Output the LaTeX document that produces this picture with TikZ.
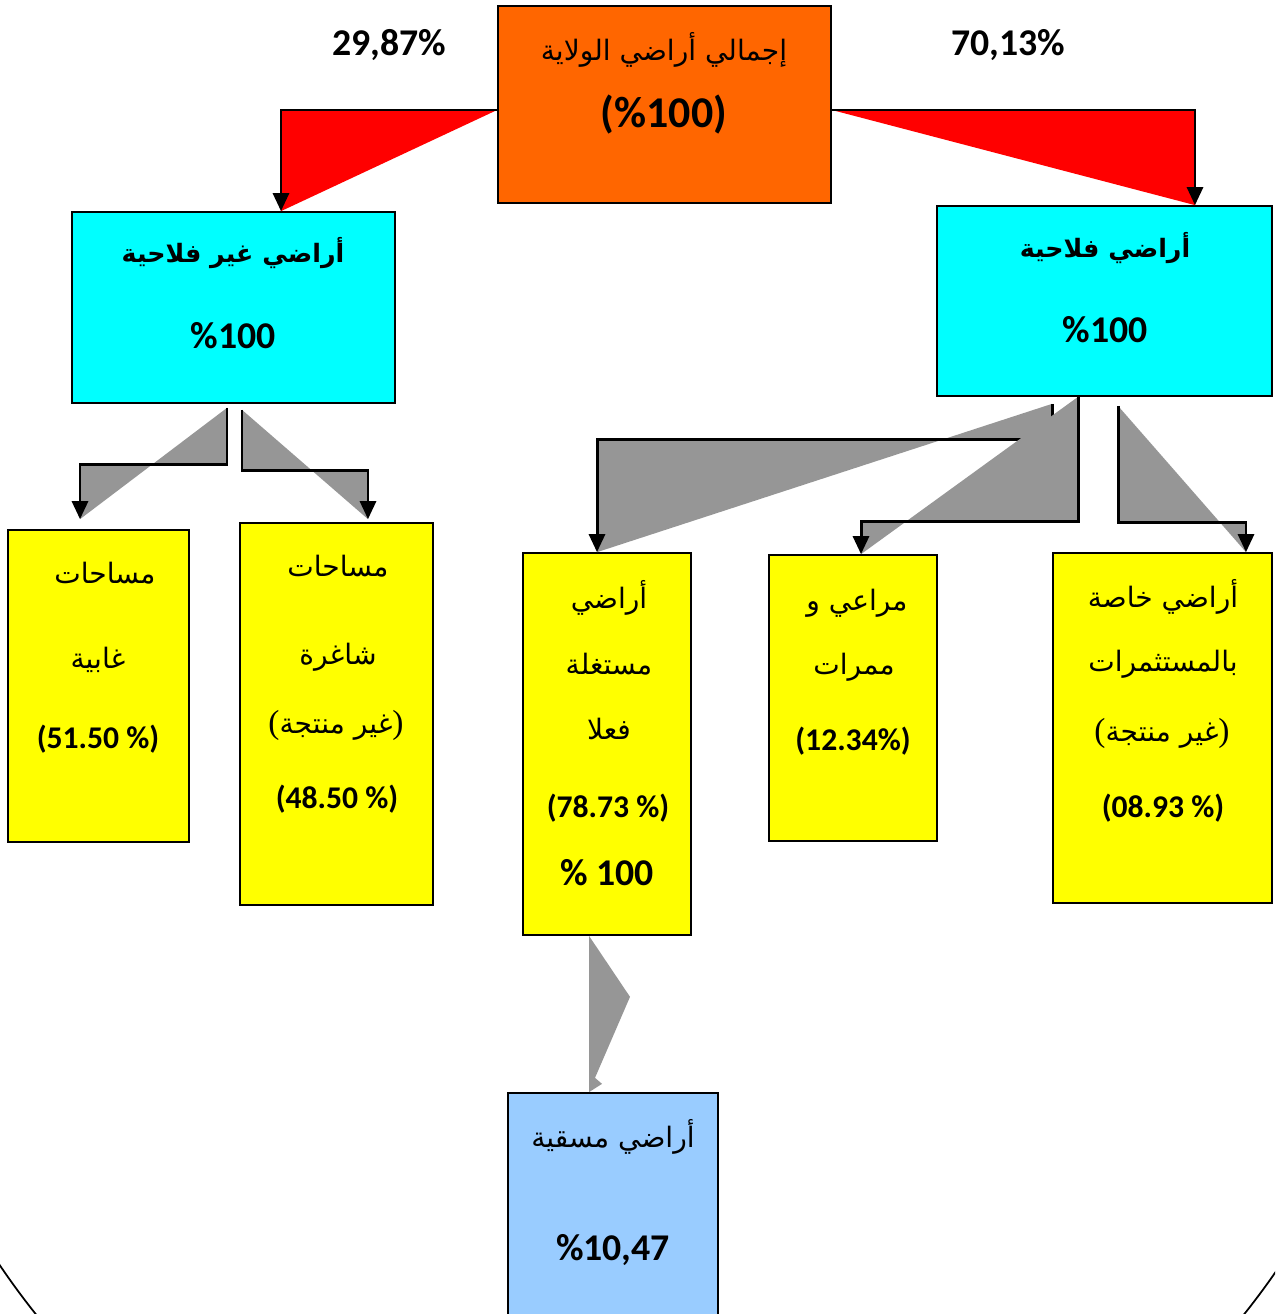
\documentclass[tikz,border=0pt]{standalone}
\usepackage{fontspec}
\usetikzlibrary{arrows.meta}
\TeXXeTstate=1
\newfontfamily\arabicfont[Script=Arabic]{DejaVu Sans}
\newfontfamily\numfont{Carlito}
\newfontfamily\parenfont{Liberation Serif}
\definecolor{boxorange}{HTML}{FF6600}
\definecolor{boxcyan}{HTML}{00FFFF}
\definecolor{boxyellow}{HTML}{FFFF00}
\definecolor{boxblue}{HTML}{99CCFF}
\definecolor{shadegray}{HTML}{969696}
\newcommand{\opar}{{\parenfont\fontsize{19}{22}\selectfont(}}
\newcommand{\cpar}{{\parenfont\fontsize{19}{22}\selectfont)}}
\begin{document}
\begin{tikzpicture}
		[x=0.02cm,y=-0.02cm,
		box/.style={rectangle,draw,line width=1pt,inner sep=0pt},
		conn/.style={line width=1.7pt,-{Triangle[length=0.36cm,width=0.32cm]}},
		redsh/.style={fill=red},
		graysh/.style={fill=shadegray},
		ar/.style={font=\arabicfont\fontsize{16}{19}\selectfont},
		arb/.style={font=\arabicfont\bfseries\fontsize{14.4}{17}\selectfont},
		num/.style={font=\numfont\bfseries\fontsize{18}{22}\selectfont},
		bignum/.style={font=\numfont\bfseries\fontsize{21.5}{25}\selectfont}]
		\clip (0,0) rectangle (1275,1314);
		% boxes
		\node[box,fill=boxorange,minimum width=6.66cm,minimum height=3.94cm] (tot) at (664.5,104.5) {};
		\node[box,fill=boxcyan,minimum width=6.46cm,minimum height=3.82cm] (nf) at (233.5,307.5) {};
		\node[box,fill=boxcyan,minimum width=6.70cm,minimum height=3.80cm] (fl) at (1104.5,301) {};
		\node[box,fill=boxyellow,minimum width=3.62cm,minimum height=6.24cm] (ghab) at (98.5,686) {};
		\node[box,fill=boxyellow,minimum width=3.86cm,minimum height=7.64cm] (shagh) at (336.5,714) {};
		\node[box,fill=boxyellow,minimum width=3.36cm,minimum height=7.64cm] (must) at (607,744) {};
		\node[box,fill=boxyellow,minimum width=3.36cm,minimum height=5.72cm] (mara) at (853,698) {};
		\node[box,fill=boxyellow,minimum width=4.38cm,minimum height=7.00cm] (khas) at (1162.5,728) {};
		\node[box,fill=boxblue,minimum width=4.20cm,minimum height=4.74cm] (masq) at (613,1211.5) {};
		% connectors from the total
		\fill[redsh] ([yshift=-0.11cm]tot.west) -| ([xshift=0.95cm]nf.north) -- cycle;
		\draw[conn] ([yshift=-0.11cm]tot.west) -| ([xshift=0.95cm]nf.north);
		\fill[redsh] ([yshift=-0.11cm]tot.east) -| ([xshift=1.81cm]fl.north) -- cycle;
		\draw[conn] ([yshift=-0.11cm]tot.east) -| ([xshift=1.81cm]fl.north);
		% non agricultural
		\fill[graysh] ([xshift=-0.13cm,yshift=-0.08cm]nf.south) -- ++(0,57) -| ([xshift=-0.37cm,yshift=0.2cm]ghab.north) -- cycle;
		\draw[conn] ([xshift=-0.13cm,yshift=-0.08cm]nf.south) -- ++(0,57) -| ([xshift=-0.37cm,yshift=0.2cm]ghab.north);
		\fill[graysh] ([xshift=0.17cm,yshift=-0.12cm]nf.south) -- ++(0,61) -| ([xshift=0.63cm,yshift=0.06cm]shagh.north) -- cycle;
		\draw[conn] ([xshift=0.17cm,yshift=-0.12cm]nf.south) -- ++(0,61) -| ([xshift=0.63cm,yshift=0.06cm]shagh.north);
		% agricultural
		\fill[graysh] ([xshift=-1.05cm,yshift=-0.14cm]fl.south) -- ++(0,36) -| ([xshift=-0.2cm]must.north) -- cycle;
		\draw[conn] ([xshift=-1.05cm,yshift=-0.14cm]fl.south) -- ++(0,36) -| ([xshift=-0.2cm]must.north);
		\fill[graysh] ([xshift=-0.53cm]fl.south) -- ++(0,125) -| ([xshift=0.16cm]mara.north) -- cycle;
		\draw[conn] ([xshift=-0.53cm]fl.south) -- ++(0,125) -| ([xshift=0.16cm]mara.north);
		\fill[graysh] ([xshift=0.27cm,yshift=-0.18cm]fl.south) -- ++(0,117) -| ([xshift=1.67cm]khas.north) -- cycle;
		\draw[conn] ([xshift=0.27cm,yshift=-0.18cm]fl.south) -- ++(0,117) -| ([xshift=1.67cm]khas.north);
		\fill[graysh] ([xshift=-0.36cm]must.south) -- ++(41,61) -- ++(-35,81) -- ++(7,6) -- ([xshift=-0.48cm]masq.north) -- cycle;
		% texts
		\node[bignum] (lpct) at (389,45) {29,87\%};
		\node[bignum] (rpct) at (1008.5,45) {70,13\%};
		\node[ar] (tot1) at (664,50) {\beginR إجمالي أراضي الولاية\endR};
		\node[bignum,font=\numfont\bfseries\fontsize{25}{29}\selectfont] (tot2) at (664,115) {(\%100)};
		\node[arb] (nf1) at (233,253) {\beginR أراضي غير فلاحية\endR};
		\node[bignum] (nf2) at (233,336) {\%100};
		\node[arb] (fl1) at (1105,248) {\beginR أراضي فلاحية\endR};
		\node[bignum] (fl2) at (1105,330) {\%100};
		\node[ar] (ghab1) at (105,573) {\beginR مساحات\endR};
		\node[ar] (ghab2) at (98,660) {\beginR غابية\endR};
		\node[num] (ghab3) at (98,739) {(51.50 \%)};
		\node[ar] (shagh1) at (338,566) {\beginR مساحات\endR};
		\node[ar] (shagh2) at (338,657) {\beginR شاغرة\endR};
		\node[ar] (shagh3) at (336,725) {\opar\beginR غير منتجة\endR\cpar};
		\node[num] (shagh4) at (337,799) {(48.50 \%)};
		\node[ar] (must1) at (609,598) {\beginR أراضي\endR};
		\node[ar] (must2) at (609,664) {\beginR مستغلة\endR};
		\node[ar] (must3) at (609,729) {\beginR فعلا\endR};
		\node[num] (must4) at (608,808) {(78.73 \%)};
		\node[bignum] (must5) at (607,873) {\% 100};
		\node[ar] (mara1) at (857,603) {\beginR مراعي و\endR};
		\node[ar] (mara2) at (854,667) {\beginR ممرات\endR};
		\node[num] (mara3) at (853,741) {(12.34\%)};
		\node[ar] (khas1) at (1163,597) {\beginR أراضي خاصة\endR};
		\node[ar] (khas2) at (1163,664) {\beginR بالمستثمرات\endR};
		\node[ar] (khas3) at (1162,733) {\opar\beginR غير منتجة\endR\cpar};
		\node[num] (khas4) at (1163,808) {(08.93 \%)};
		\node[ar] (masq1) at (613,1137) {\beginR أراضي مسقية\endR};
		\node[bignum] (masq2) at (613,1250) {\%10,47};
		% frame arcs
		\draw[line width=1pt] (640,832) ++(150:773) arc (150:135:773);
		\draw[line width=1pt] (640,832) ++(30:773) arc (30:45:773);
\end{tikzpicture}
\end{document}
